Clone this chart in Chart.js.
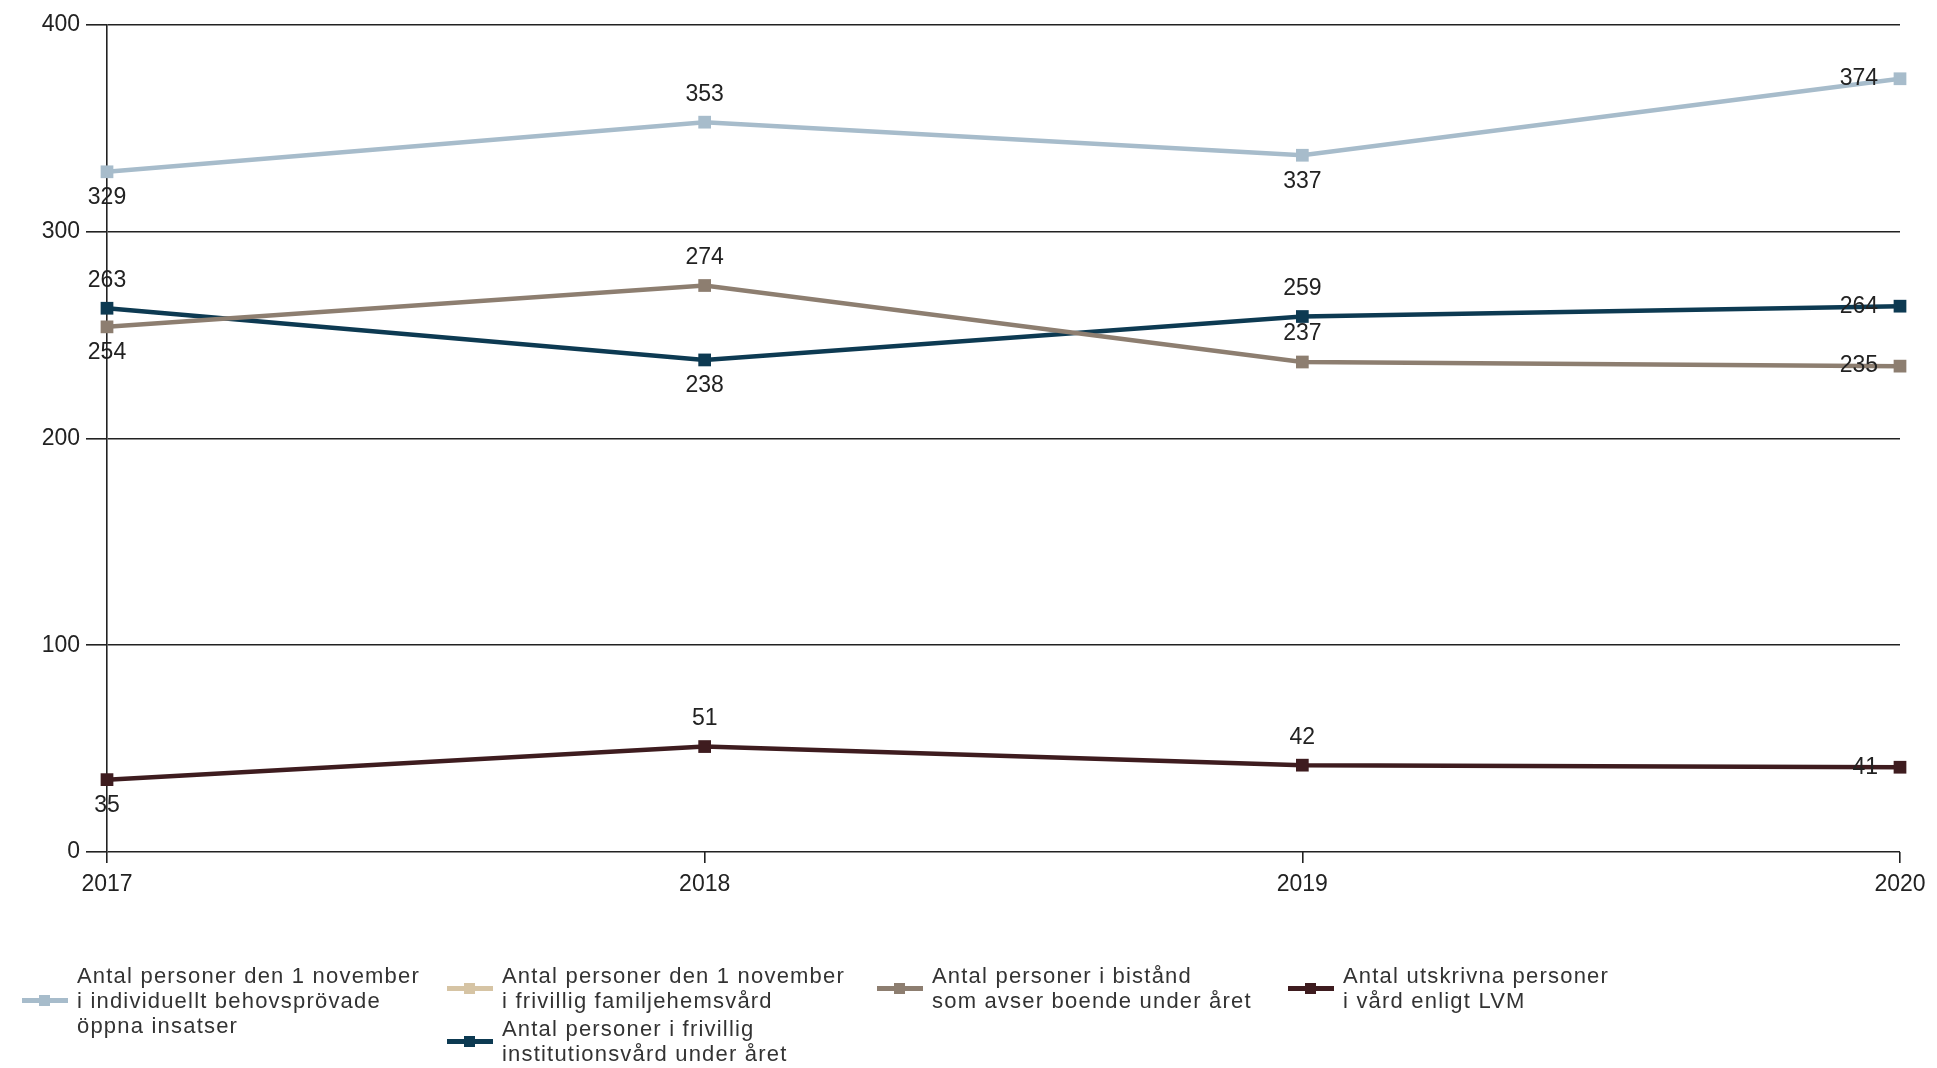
<!DOCTYPE html>
<html>
<head>
<meta charset="utf-8">
<title>Antal personer 2017-2020</title>
<script src="https://cdn.jsdelivr.net/npm/chart.js@4.4.0/dist/chart.umd.min.js"></script>
<style>
    html, body { margin: 0; padding: 0; background: #fff; }
    #wrap { position: relative; width: 1937px; height: 1068px; }
    #legend { position: absolute; left: 0; top: 0; width: 100%; height: 100%; pointer-events: none;
              font-family: "Liberation Sans", Arial, sans-serif; }
    .item { position: absolute; display: flex; align-items: center; }
    .sym { position: relative; width: 46px; height: 5px; margin-right: 9px; flex: none; }
    .sym i { position: absolute; left: 17px; top: -3px; width: 11px; height: 11px; }
    .txt { white-space: pre-line; font-size: 22px; line-height: 25px; letter-spacing: 1.2px; color: #333; }
</style>
</head>
<body>
<div id="wrap">
    <canvas id="chart" width="1937" height="1068"></canvas>
    <div id="legend"></div>
</div>
<script>
const years = ['2017', '2018', '2019', '2020'];

const oppnaInsatser = [329, 353, 337, 374];
const familjehemsvard = [null, null, null, null];
const bistandBoende = [254, 274, 237, 235];
const utskrivnaLvm = [35, 51, 42, 41];
const institutionsvard = [263, 238, 259, 264];

const yTicks = [0, 100, 200, 300, 400];

// where each value label sits relative to its point
const posOppna = ['below', 'above', 'below', 'left'];
const posBistand = ['below', 'above', 'above', 'left'];
const posLvm = ['below', 'above', 'above', 'left'];
const posInst = ['above', 'below', 'above', 'left'];

// legend slots: left / top of each entry
const legendSlots = [
    [22, 963], [447, 963], [877, 963], [1288, 963], [447, 1016]
];

function series(label, data, color, pos){
    return {
        label: label,
        data: data,
        borderColor: color,
        backgroundColor: color,
        borderWidth: 4.5,
        pointStyle: 'rect',
        pointRadius: 9,
        pointHoverRadius: 9,
        pointBorderWidth: 0,
        tension: 0,
        labelPos: pos
    };
}

// draws the numbers next to the points
const valueLabels = {
    id: 'valueLabels',
    afterDatasetsDraw(chart){
        const ctx = chart.ctx;
        ctx.save();
        ctx.font = '23px "Liberation Sans", Arial, sans-serif';
        ctx.fillStyle = '#222';
        chart.data.datasets.forEach(function(ds, i){
            if (!ds.labelPos) return;
            const meta = chart.getDatasetMeta(i);
            meta.data.forEach(function(pt, j){
                const v = ds.data[j];
                if (v === null) return;
                const p = ds.labelPos[j];
                if (p === 'left') {
                    ctx.textAlign = 'right';
                    ctx.textBaseline = 'middle';
                    ctx.fillText(v, pt.x - 22, pt.y);
                } else {
                    ctx.textAlign = 'center';
                    ctx.textBaseline = 'middle';
                    ctx.fillText(v, pt.x, p === 'above' ? pt.y - 28 : pt.y + 26);
                }
            });
        });
        ctx.restore();
    }
};

const gridColor = '#222';

var ctx = document.getElementById('chart').getContext('2d');
var myChart = new Chart(ctx, {
    type: 'line',
    data: {
        labels: years,
        datasets: [
            series('Antal personer den 1 november\ni individuellt behovsprövade\nöppna insatser', oppnaInsatser, '#a7bccb', posOppna),
            series('Antal personer den 1 november\ni frivillig familjehemsvård', familjehemsvard, '#d6c4a4', null),
            series('Antal personer i bistånd\nsom avser boende under året', bistandBoende, '#8d7e70', posBistand),
            series('Antal utskrivna personer\ni vård enligt LVM', utskrivnaLvm, '#3e1c1f', posLvm),
            series('Antal personer i frivillig\ninstitutionsvård under året', institutionsvard, '#0d3a52', posInst)
        ]
    },
    options: {
        responsive: false,
        animation: false,
        layout: { padding: { top: 25, right: 37, bottom: 176, left: 0 } },
        plugins: {
            legend: { display: false },
            tooltip: { enabled: false }
        },
        scales: {
            x: {
                offset: false,
                afterFit: function(scale){ scale.height = 40; },
                grid: { drawOnChartArea: false, drawTicks: true, tickLength: 11, color: gridColor, lineWidth: 1.6 },
                border: { display: false },
                ticks: {
                    padding: 8,
                    color: '#222',
                    font: { family: '"Liberation Sans", Arial, sans-serif', size: 23 },
                    maxRotation: 0
                }
            },
            y: {
                min: 0,
                max: 400,
                afterFit: function(scale){ scale.width = 107; },
                afterBuildTicks: function(scale){
                    scale.ticks = yTicks.map(function(v){ return { value: v }; });
                },
                grid: { color: gridColor, lineWidth: 1.6, tickLength: 21 },
                border: { display: true, color: gridColor, width: 1.6 },
                ticks: {
                    padding: 6,
                    color: '#222',
                    font: { family: '"Liberation Sans", Arial, sans-serif', size: 23 }
                }
            }
        }
    },
    plugins: [valueLabels]
});

// legend built from the datasets
function buildLegend(chart){
    var box = document.getElementById('legend');
    chart.data.datasets.forEach(function(ds, i){
        var item = document.createElement('div');
        item.className = 'item';
        item.style.left = legendSlots[i][0] + 'px';
        item.style.top = legendSlots[i][1] + 'px';
        var sym = document.createElement('div');
        sym.className = 'sym';
        sym.style.background = ds.borderColor;
        var mark = document.createElement('i');
        mark.style.background = ds.borderColor;
        sym.appendChild(mark);
        var txt = document.createElement('div');
        txt.className = 'txt';
        txt.textContent = ds.label;
        item.appendChild(sym);
        item.appendChild(txt);
        box.appendChild(item);
    });
}
buildLegend(myChart);
</script>
</body>
</html>
